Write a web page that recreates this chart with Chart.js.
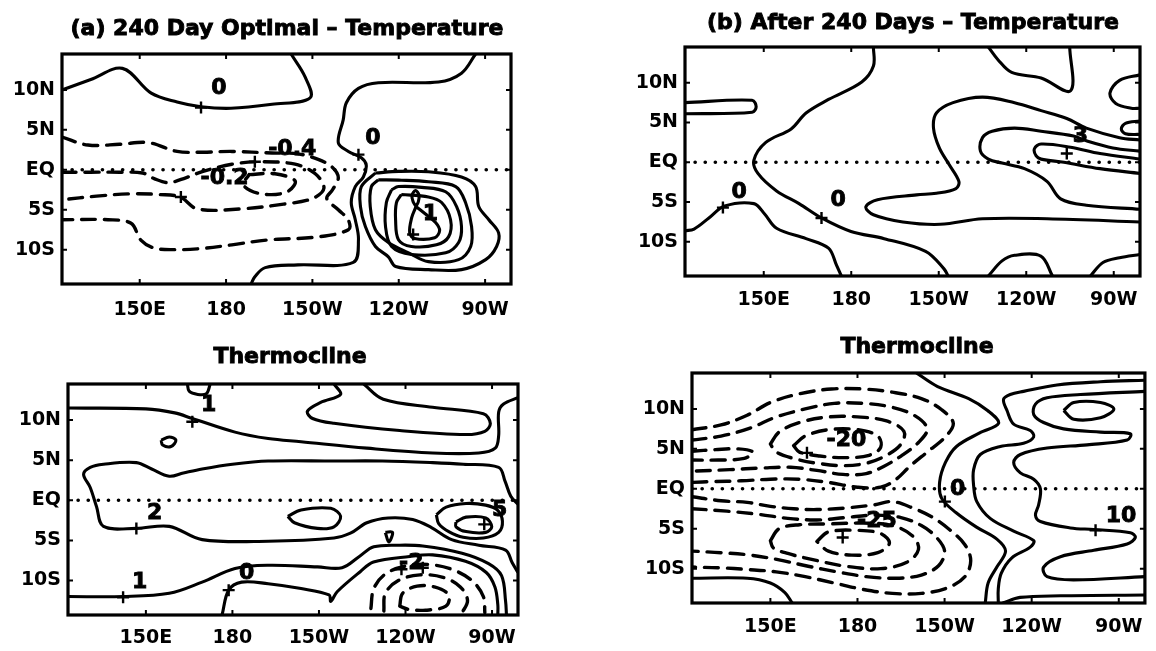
<!DOCTYPE html>
<html>
<head>
<meta charset="utf-8">
<script src="https://cdn.jsdelivr.net/npm/chart.js@4.4.1/dist/chart.umd.min.js"></script>
<style>
    html, body { margin: 0; padding: 0; background: #fff; }
    body { width: 1156px; height: 651px; position: relative; overflow: hidden; }
    .panel { position: absolute; }
</style>
</head>
<body>
<div class="panel" style="left:0;top:0"><canvas id="chartA" width="578" height="330"></canvas></div>
<div class="panel" style="left:578px;top:0"><canvas id="chartB" width="578" height="330"></canvas></div>
<div class="panel" style="left:0;top:330px"><canvas id="chartC" width="578" height="321"></canvas></div>
<div class="panel" style="left:578px;top:330px"><canvas id="chartD" width="578" height="321"></canvas></div>
<script>
// axes
const lonTicks = [150, 180, 210, 240, 270];
const lonLabels = ["150E", "180", "150W", "120W", "90W"];
const latTicks = [-10, -5, 0, 5, 10];
const latLabels = ["10S", "5S", "EQ", "5N", "10N"];
const equator = [[123, 0], [279, 0]];

// (a) 240 day optimal - temperature
const aZeroWest = [[123, 10], [133, 11.3], [144, 12.7], [154, 9.6], [163, 8.5], [171.3, 7.9], [181.7, 7.7], [196, 8.2], [209.2, 9], [207.5, 11.6], [202.6, 14.5]];
const aZeroEast = [[266.7, 14.5], [261.8, 12.1], [253.8, 11], [232.9, 10.9], [226, 10.2], [221.8, 8.4], [220.7, 6.25], [219, 3.4], [222.5, 2.3], [227, 1.5], [228.7, 0.6], [227.7, -0.9], [224.9, -2.1], [223.5, -4.1], [224.9, -6.25], [226, -8.75], [224.2, -11.6], [205, -11.9], [193.6, -12.25], [190, -13.4], [188.7, -14.3]];
const aNegOuter = [[123, 4.1], [132, 3.1], [143, 3.2], [153, 3.4], [163, 2.3], [172, 2.2], [182, 2.3], [196, 2.1], [205, 2.0], [212, 1.3], [217, 0.3], [219, -1], [217, -2.5], [215, -3.6], [219, -5], [222.5, -6.3], [222.5, -7.5], [212, -8.4], [194, -8.8], [182, -9.4], [170, -9.9], [162, -10], [155, -9.8], [150.4, -8.8], [147, -6.7], [139, -6.25], [123, -6.25]];
const aNegMid = [[123, -0.3], [133, -0.3], [143, -0.3], [151, -0.4], [155, -1.1], [160, -1.6], [166, -1.0], [172, -0.2], [182, 0.7], [192, 1.0], [204, 0.7], [211, -0.5], [214, -2.3], [210, -3.6], [200, -4.3], [185, -4.9], [170, -4.9], [164, -3.4], [157, -3.1], [147, -3.0], [135, -3.3], [123, -3.75]];
const aNegCore = [[188, -0.6], [197, -0.5], [204, -1.4], [201, -2.8], [192, -3.0], [186, -1.9], [188, -0.6]];
const aWarm1 = [[231.9, -0.4], [240, -0.2], [250.3, -0.25], [261.8, -0.9], [266.7, -2.1], [267.8, -4.6], [271.3, -6.25], [274.7, -7.9], [274, -9.6], [270.2, -11.25], [261.8, -12.5], [250.3, -12.5], [238.9, -12.1], [236.4, -10.9], [231.9, -9.6], [228.4, -7.1], [226.7, -4.6], [227, -2.1], [231.9, -0.4]];
const aWarm2 = [[232.9, -1.25], [241, -1.3], [250.3, -1.5], [259.8, -2.1], [263.2, -4.1], [265.3, -7.1], [265, -9.6], [260.8, -11.25], [250.3, -11.5], [243.4, -10.4], [236.4, -9.1], [231.9, -7.5], [230.1, -4.6], [230.5, -2.1], [232.9, -1.25]];
const aWarm3 = [[237.5, -2.5], [239.9, -2.1], [248, -2.2], [256.3, -2.75], [260.1, -4.6], [261.8, -7.1], [260.8, -9.1], [256.3, -10.4], [244.4, -10.6], [237.5, -9.6], [235.4, -7.1], [235.7, -4.1], [237.5, -2.5]];
const aWarm4 = [[240.9, -3.1], [250.3, -3.4], [254.9, -4.1], [258, -6.25], [257.3, -8.4], [253.1, -9.4], [244.4, -9.6], [239.9, -8.75], [238.9, -6.25], [239.2, -4.1], [240.9, -3.1]];
const aWarm5 = [[246, -4.6], [245, -4], [244.6, -3.2], [245.8, -2.6], [247, -3.1], [246.8, -4], [246, -4.6], [244.5, -6], [243.8, -7.9], [245.5, -8.6], [252.5, -8.5], [254.2, -7.6], [252.8, -6.6], [249.5, -5.6], [246, -4.6]];
const aLabels = [["0", 177.5, 10.2], ["0", 231, 3.9], ["-0.4", 203, 2.6], ["-0.2", 179.5, -1], ["1", 251, -5.6]];
const aCrosses = [[171.3, 7.8], [226, 1.9], [190, 1.0], [164.3, -3.4], [245, -8.1]];

// (b) after 240 days - temperature
const bBar = [[123, 7.5], [146, 7.8], [147.4, 7.0], [146, 6.3], [123, 6.1]];
const bZeroMid = [[187.6, 14.5], [187.6, 12.1], [183.6, 10.1], [172.2, 7.9], [164.5, 6.2], [159.4, 4.2], [150.7, 2.5], [146.6, 0.25], [148, -1.4], [154.4, -3.6], [162.1, -5.2], [169.8, -7], [179.9, -8.7], [191.3, -9.6], [205.5, -11.2], [211.8, -13.4], [213.2, -14.3]];
const bZeroSW = [[123, -8.6], [126.1, -8.4], [131.2, -7], [136.6, -5.5], [146.6, -5.2], [150.3, -6.5], [154.4, -8.3], [164.5, -9.6], [172.2, -10.8], [174.9, -12.9], [176.6, -14.3]];
const bTopNotch = [[227, 14.5], [230.3, 12.9], [235, 11.3], [245.1, 10.6], [255.2, 9], [254.9, 14.5]];
const bBig = [[279, 2.8], [272, 3.1], [260.6, 4.3], [253.9, 5.5], [245.1, 6.5], [236, 7.5], [225, 8.2], [214.9, 7.5], [209.2, 6.2], [208.2, 4.3], [210.2, 1.8], [213.5, -0.25], [216.9, -2.4], [215.9, -3.3], [209.2, -3.9], [202.4, -4.1], [189, -4.7], [185, -5.6], [187.6, -6.6], [197.7, -7.5], [210.5, -7.8], [225, -7.1], [247.1, -7.1], [279, -7.5]];
const bTongue = [[279, 1.4], [269.7, 1.8], [260.6, 2.7], [256.2, 3.3], [245.1, 3.9], [236, 4.3], [228.3, 3.9], [225, 3.1], [224.3, 1.4], [227, 0.4], [231.7, -0.1], [239.4, -0.8], [247.1, -2.4], [251.8, -4.6], [260.6, -5.4], [279, -5.9]];
const bInner = [[279, 0.4], [265.3, 1.1], [255.2, 1.9], [245.1, 2.3], [242.8, 1.7], [243.4, 0.8], [245.1, 0.4], [252.9, 0], [265.3, -0.8], [279, -1.4]];
const bEdge1 = [[279, 11], [272, 10.3], [268.7, 8.7], [270.7, 7.4], [276, 6.8], [279, 6.8]];
const bEdge2 = [[279, 5.2], [274, 4.9], [272.6, 4.2], [274, 3.6], [279, 3.5]];
const bBump1 = [[227, -14.3], [231.7, -12.4], [236, -11.7], [245, -11.8], [249, -14.3]];
const bBump2 = [[262, -14.3], [266.3, -12.6], [272, -12], [279, -11.6]];
const bLabels = [["0", 141.6, -3.8], ["0", 175.5, -4.8], ["3", 258.6, 3.3]];
const bCrosses = [[136, -5.7], [169.8, -7], [253.9, 1.1]];

// (a) thermocline
const cTopBump = [[164.4, 14.5], [165, 13.6], [168, 13.2], [171, 13.3], [172.3, 14.5]];
const cOne = [[123, 11.5], [150, 11.4], [160, 10.9], [166.1, 10.2], [180.9, 8.5], [192.4, 7.7], [203.8, 7.3], [226.6, 6.5], [249.4, 5.9], [265.4, 5.9], [271.1, 6.5], [272.3, 8.1], [272.3, 11], [274, 12], [279, 12.8]];
const cLoopNE = [[215.2, 14.5], [217.5, 13.2], [210.6, 12.2], [206, 11.1], [207.8, 10.2], [215.2, 9.6], [238, 8.7], [260.8, 8.2], [267.5, 8.6], [269.4, 9.6], [267, 10.8], [249.4, 11.6], [232.3, 12.6], [225.5, 14.5]];
const cTwo = [[279, -0.5], [276.5, 0.5], [274.5, 2.4], [272.3, 4.1], [260, 4.5], [249.4, 4.7], [232, 4.9], [215.2, 4.9], [192.4, 4.9], [180, 4.5], [169.5, 3.9], [163, 3.4], [158.1, 3], [152, 3.9], [146.7, 4.7], [135.3, 4.5], [130.7, 4.1], [128.4, 3.25], [130.7, 1.6], [132.9, -0.8], [135.3, -3.25], [146.7, -3.5], [158.1, -3.25], [169.5, -4.9], [192.4, -5.1], [215.2, -4.7], [220.9, -4.1], [226.6, -2.8], [234, -2.2], [242.5, -2.4], [249, -3.4], [256, -4.9], [265.4, -5.6], [274.7, -6.2], [277, -7.8], [279, -9]];
const cFiveOuter = [[250.7, -1.8], [254.1, -0.85], [261, -0.4], [267.8, -0.6], [271.8, -1.2], [273.6, -2.6], [272.3, -4.0], [267, -4.7], [260, -4.6], [255, -3.9], [251.5, -2.9], [250.7, -1.8]];
const cFiveInner = [[257.5, -2.7], [261, -2.1], [267.8, -2.2], [269.9, -3.3], [267.8, -4], [261, -3.9], [257.5, -3.3], [257.5, -2.7]];
const cOneSouth = [[123, -12], [142.1, -12], [158.1, -11.6], [169.5, -10.2], [180.9, -8.5], [192.4, -8.1], [209.5, -8.3], [218, -8.4], [224, -7.0], [229, -5.8], [238, -5.6], [246, -5.7], [259.6, -6.6], [268.8, -7.9], [273.3, -9.4], [274.7, -12.6], [275, -14.3]];
const cZero = [[176.4, -14.3], [178.7, -11.2], [183.2, -10.2], [192.4, -10.4], [203.8, -11], [213.5, -11.8], [214.1, -12.6], [216.3, -11.4], [224.3, -8.9], [228.9, -7.7], [241.4, -7.0], [249.4, -6.8], [260.8, -7.6], [268, -9], [271, -10.8], [272, -13], [272, -14.3]];
const cSmallLoop = [[199.2, -2], [203.8, -1.2], [214.1, -1], [217.5, -2], [215.2, -3.3], [209.5, -3.5], [201.5, -2.8], [199.2, -2]];
const cTinyLoop = [[155.3, 7.5], [158.1, 7.9], [160.4, 7.5], [158.7, 6.7], [155.8, 6.9], [155.3, 7.5]];
const cSpeck = [[233, -4], [235.5, -4], [234.2, -5.2], [233, -4]];
const cNeg1 = [[228, -13.5], [229, -11], [233, -9.2], [240, -8.2], [248, -8], [256, -8.6], [263, -10], [267, -12], [267.5, -14]];
const cNeg2 = [[232.5, -13.8], [233, -11.6], [237.5, -10], [245, -9.3], [253, -9.6], [259, -10.8], [261.5, -12.5], [259.5, -14.1]];
const cNeg3 = [[238, -13.2], [239, -11.6], [244, -10.7], [250, -10.8], [255, -11.8], [254, -13.2], [247, -13.7], [241, -13.6], [238, -13.2]];
const cLabels = [["1", 171.8, 11.8], ["2", 153, -1.6], ["5", 272.6, -1.3], ["1", 147.8, -10.2], ["0", 184.9, -9.1], ["-2", 242, -7.9]];
const cCrosses = [[166.1, 9.8], [146.7, -3.5], [267.3, -3.0], [142.1, -12.1], [178.7, -11.2], [238.6, -8.6], [246, -8.4]];

// (b) thermocline
const dZero = [[200.3, 14.5], [207.6, 12.8], [218.3, 11.3], [224.8, 9.8], [228.6, 8.2], [222.1, 7], [214.1, 5.3], [210.3, 3.3], [208.3, 0.85], [209, -1.2], [214, -3], [221, -4.8], [228, -6.3], [231, -7.8], [228, -9.8], [225, -11.8], [224, -14.3]];
const dFive = [[279, 13.6], [263.7, 13.4], [248.7, 13], [237.2, 12.2], [232.6, 11.8], [230.3, 11.2], [231.5, 9.8], [233.8, 8.1], [239.5, 7.3], [240.7, 6.5], [237.2, 5.7], [229.2, 5.3], [222.3, 4.3], [220, 2.4], [220, 0.4], [221.1, -1.6], [225.7, -3.7], [233.8, -5.3], [240.7, -6.5], [239.5, -7.3], [233, -8.7], [229.5, -10.6], [228.5, -12.5], [228.5, -14.3]];
const dTen = [[279, 12.2], [256.8, 11.8], [245.3, 11.4], [241.3, 10.6], [240.7, 9.3], [244.1, 8.3], [251, 7.5], [263.7, 7.1], [274, 6.9], [272.9, 6.1], [259.1, 5.5], [245.3, 5.1], [236.1, 4.3], [233.8, 3.3], [236.1, 2], [240.7, 1.2], [243, 0], [242.4, -2], [241.3, -3.3], [243, -4.1], [253.3, -4.9], [261.4, -5.1], [274, -5.5], [275.7, -6.1], [272.9, -6.9], [261.4, -7.7], [249.9, -8.5], [244.1, -9.8], [245.3, -11], [254.5, -11.4], [279, -11]];
const dLoopNE = [[251, 9.8], [254.5, 10.8], [263.7, 10.8], [268.3, 10], [263.7, 8.9], [254.5, 8.7], [251, 9.8]];
const dBottom = [[230, -14.3], [236, -13.6], [250, -13.4], [279, -13.3]];
const dSW = [[123, -11.2], [142, -11.2], [150, -11.8], [155, -13], [157.5, -14.3]];
const dN0 = [[123, 4.7], [131, 4.9], [139, 5.0], [144, 4.6], [141, 3.8], [132, 3.6], [123, 3.6]];
const dN1 = [[123, 7.4], [133, 8], [142, 9.2], [150, 10.8], [160, 11.9], [171, 12.5], [182, 12.5], [192, 12.1], [202, 11.3], [209, 9.9], [213, 8.2], [210, 6.4], [204, 4.6], [198, 2.8], [193, 1.1], [188, 0.2], [180, 0.2], [170, 0.8], [160, 1.2], [150, 1.2], [140, 1.0], [130, 0.9], [123, 0.8]];
const dN2 = [[123, 6.1], [133, 6.6], [143, 7.6], [152, 9], [162, 10], [172, 10.7], [182, 10.7], [192, 10.2], [200, 9.1], [204, 7.5], [201, 5.8], [195, 4.1], [189, 2.8], [183, 1.9], [175, 1.8], [166, 2.3], [157, 2.7], [147, 2.6], [136, 2.4], [123, 2.2]];
const dN3 = [[150, 5.6], [153, 7.1], [160, 8.3], [170, 9], [180, 9], [190, 8.5], [196, 7.2], [195, 5.6], [190, 4.2], [183, 3.2], [175, 2.9], [166, 3.2], [158, 3.8], [152, 4.6], [150, 5.6]];
const dN4 = [[158, 5.4], [162, 6.6], [170, 7.4], [180, 7.4], [187, 6.6], [188, 5.2], [184, 4.2], [176, 3.9], [167, 4.1], [160, 4.6], [158, 5.4]];
const dS1 = [[123, -1.0], [133, -1.5], [142, -1.7], [150, -2.2], [158, -2.5], [166, -2.6], [176, -2.4], [186, -2.0], [192, -1.6], [199, -2.4], [206, -3.6], [212, -5.2], [217, -7], [219, -9], [217, -11], [211, -12.4], [202, -13.1], [192, -13.1], [182, -12.6], [172, -11.8], [162, -11], [152, -10.4], [142, -10.1], [133, -9.9], [123, -9.8]];
const dS2 = [[123, -2.5], [135, -2.8], [146, -3.2], [156, -3.7], [166, -3.9], [176, -3.6], [186, -3.3], [195, -3.6], [202, -4.6], [207, -6], [210, -7.8], [208, -9.6], [202, -10.8], [193, -11.2], [183, -11], [173, -10.4], [163, -9.7], [153, -8.9], [143, -8.3], [133, -8], [123, -7.8]];
const dS3 = [[150, -6.5], [153, -5], [160, -4.5], [170, -4.4], [182, -4.3], [192, -4.6], [199, -5.9], [201, -7.6], [197, -9.2], [188, -10], [176, -9.7], [165, -8.9], [156, -8.1], [151, -7.4], [150, -6.5]];
const dS4 = [[166, -6.6], [170, -5.4], [180, -5.2], [188, -5.6], [191, -6.8], [187, -8], [178, -8.3], [170, -7.8], [166, -6.6]];
const dLabels = [["-20", 176.2, 6.1], ["-25", 186.7, -4.1], ["0", 214.5, 0], ["10", 270.8, -3.4]];
const dCrosses = [[162.6, 4.5], [174.9, -6.1], [210.1, -1.6], [262, -5.2]];

function line(points, style) {
    return {
        data: points.map(p => ({ x: p[0], y: p[1] })),
        showLine: true,
        pointRadius: 0,
        borderColor: "#000",
        borderWidth: style === "dot" ? 3.6 : style === "dash" ? 3.4 : 3.1,
        borderDash: style === "dash" ? [14, 9] : style === "dot" ? [0.1, 10] : [],
        borderCapStyle: style === "solid" ? "butt" : "round",
        borderJoinStyle: "round",
        tension: style === "dot" ? 0 : 0.35,
        fill: false
    };
}

const overlay = {
    id: "overlay",
    afterDraw(chart, args, opts) {
        const ctx = chart.ctx;
        const area = chart.chartArea;
        const xs = chart.scales.x;
        const ys = chart.scales.y;
        ctx.save();
        ctx.strokeStyle = "#000";
        ctx.fillStyle = "#000";

        ctx.lineWidth = 3.2;
        ctx.strokeRect(area.left, area.top, area.right - area.left, area.bottom - area.top);

        ctx.lineWidth = 2;
        ctx.beginPath();
        lonTicks.forEach(v => {
            const px = xs.getPixelForValue(v);
            ctx.moveTo(px, area.bottom); ctx.lineTo(px, area.bottom - 5);
            ctx.moveTo(px, area.top); ctx.lineTo(px, area.top + 5);
        });
        latTicks.forEach(v => {
            const py = ys.getPixelForValue(v);
            ctx.moveTo(area.left, py); ctx.lineTo(area.left + 5, py);
            ctx.moveTo(area.right, py); ctx.lineTo(area.right - 5, py);
        });
        ctx.stroke();

        ctx.lineWidth = 2.4;
        ctx.beginPath();
        opts.crosses.forEach(c => {
            const px = xs.getPixelForValue(c[0]);
            const py = ys.getPixelForValue(c[1]);
            ctx.moveTo(px - 6, py); ctx.lineTo(px + 6, py);
            ctx.moveTo(px, py - 6); ctx.lineTo(px, py + 6);
        });
        ctx.stroke();

        // heavier text, like the scanned print
        ctx.lineWidth = 0.9;
        ctx.font = 'bold 22px "DejaVu Sans"';
        ctx.textAlign = "center";
        ctx.textBaseline = "middle";
        opts.labels.forEach(l => {
            const px = xs.getPixelForValue(l[1]);
            const py = ys.getPixelForValue(l[2]);
            ctx.fillText(l[0], px, py);
            ctx.strokeText(l[0], px, py);
        });

        ctx.textBaseline = "alphabetic";
        ctx.fillText(opts.title, opts.titleX, opts.titleY);
        ctx.strokeText(opts.title, opts.titleX, opts.titleY);
        ctx.restore();
    }
};

function makePanel(id, cfg) {
    const datasets = [line(equator, "dot")];
    cfg.solid.forEach(p => datasets.push(line(p, "solid")));
    cfg.dashed.forEach(p => datasets.push(line(p, "dash")));

    return new Chart(document.getElementById(id), {
        type: "scatter",
        data: { datasets },
        plugins: [overlay],
        options: {
            responsive: false,
            animation: false,
            layout: { padding: cfg.padding },
            plugins: {
                legend: { display: false },
                tooltip: { enabled: false },
                overlay: { title: cfg.title, titleX: cfg.titleX, titleY: cfg.titleY, labels: cfg.labels, crosses: cfg.crosses }
            },
            scales: {
                x: {
                    type: "linear", min: 123, max: 279,
                    grid: { display: false, drawTicks: false },
                    border: { display: false },
                    afterBuildTicks: s => { s.ticks = lonTicks.map(v => ({ value: v })); },
                    afterFit: s => { s.height = 36; },
                    ticks: {
                        padding: cfg.xPad, color: "#000", maxRotation: 0,
                        font: { family: "DejaVu Sans", size: 19, weight: "bold" },
                        callback: v => lonLabels[lonTicks.indexOf(v)]
                    }
                },
                y: {
                    type: "linear", min: -14.3, max: 14.5,
                    grid: { display: false, drawTicks: false },
                    border: { display: false },
                    afterBuildTicks: s => { s.ticks = latTicks.map(v => ({ value: v })); },
                    afterFit: s => { s.width = 56; },
                    ticks: {
                        padding: 7, color: "#000",
                        font: { family: "DejaVu Sans", size: 19, weight: "bold" },
                        callback: v => latLabels[latTicks.indexOf(v)]
                    }
                }
            }
        }
    });
}

makePanel("chartA", {
    title: "(a) 240 Day Optimal \u2013 Temperature", titleX: 287, titleY: 35,
    padding: { left: 6, top: 54, right: 67, bottom: 10 }, xPad: 15,
    solid: [aZeroWest, aZeroEast, aWarm1, aWarm2, aWarm3, aWarm4, aWarm5],
    dashed: [aNegOuter, aNegMid, aNegCore],
    labels: aLabels, crosses: aCrosses
});

makePanel("chartB", {
    title: "(b) After 240 Days \u2013 Temperature", titleX: 335, titleY: 29,
    padding: { left: 51, top: 47, right: 16, bottom: 18 }, xPad: 13,
    solid: [bBar, bZeroMid, bZeroSW, bTopNotch, bBig, bTongue, bInner, bEdge1, bEdge2, bBump1, bBump2],
    dashed: [],
    labels: bLabels, crosses: bCrosses
});

makePanel("chartC", {
    title: "Thermocline", titleX: 290, titleY: 33,
    padding: { left: 12, top: 54, right: 60, bottom: 0 }, xPad: 12,
    solid: [cTopBump, cOne, cLoopNE, cTwo, cFiveOuter, cFiveInner, cOneSouth, cZero, cSmallLoop, cTinyLoop, cSpeck],
    dashed: [cNeg1, cNeg2, cNeg3],
    labels: cLabels, crosses: cCrosses
});

makePanel("chartD", {
    title: "Thermocline", titleX: 339, titleY: 23,
    padding: { left: 58, top: 43, right: 9, bottom: 12 }, xPad: 13,
    solid: [dZero, dFive, dTen, dLoopNE, dBottom, dSW],
    dashed: [dN0, dN1, dN2, dN3, dN4, dS1, dS2, dS3, dS4],
    labels: dLabels, crosses: dCrosses
});
</script>
</body>
</html>
